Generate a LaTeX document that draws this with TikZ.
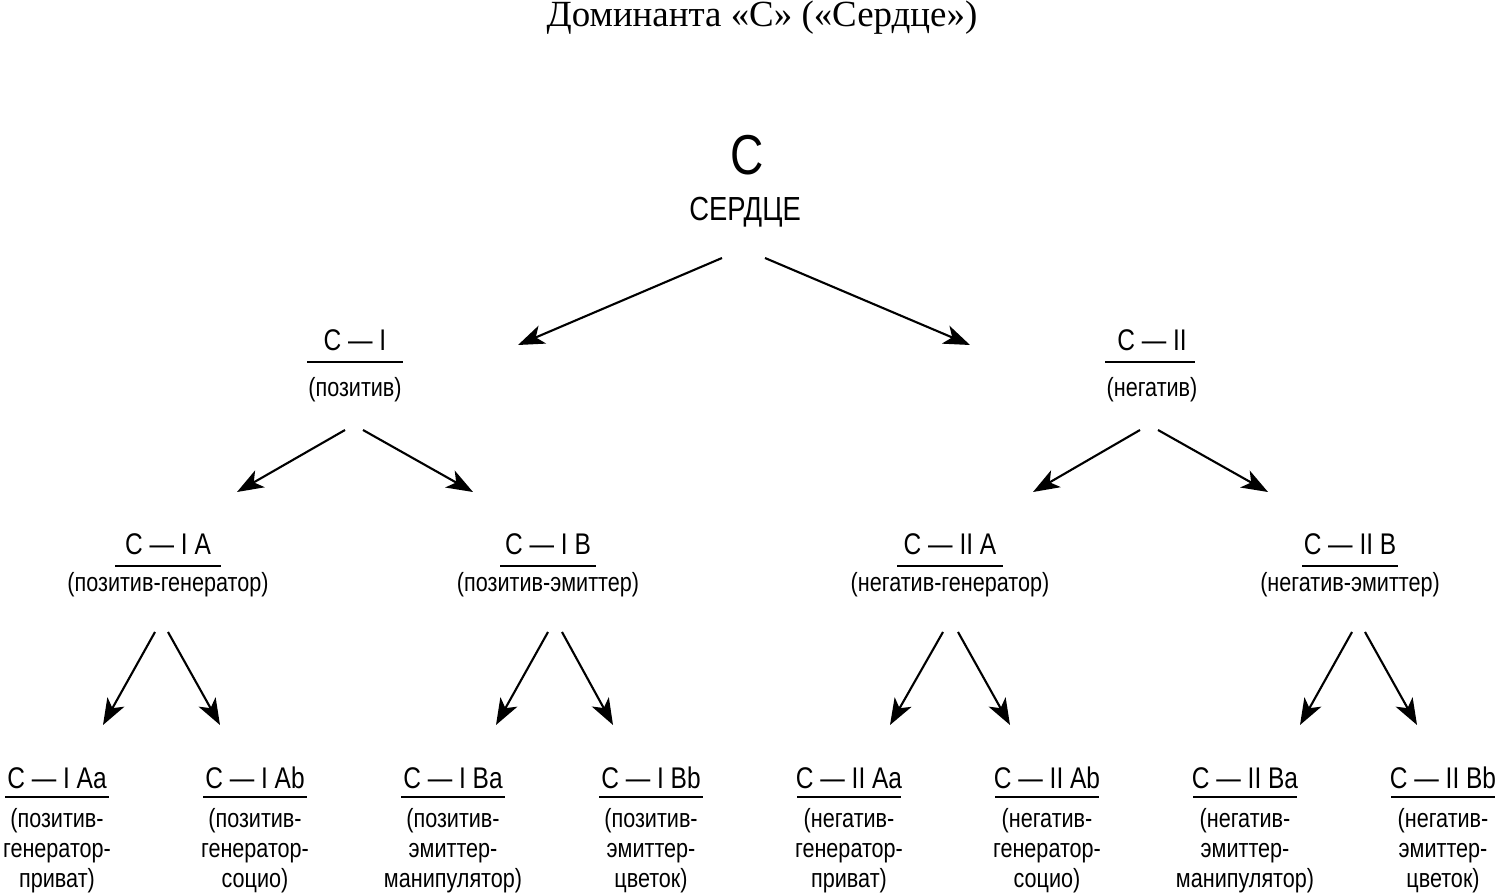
\documentclass[tikz,border=0pt]{standalone}
\usepackage{fontspec}
\setmainfont{Liberation Serif}
\newfontfamily\cond[FakeStretch=0.82]{Liberation Sans}
\usetikzlibrary{arrows.meta}
\begin{document}
\begin{tikzpicture}[x=0.02cm,y=-0.02cm,
  hd/.style={font=\cond\fontsize{17}{20}\selectfont,inner sep=0pt,anchor=center},
  sub/.style={font=\cond\fontsize{15}{17}\selectfont,inner sep=0pt,align=center,anchor=north},
  ul/.style={line width=1.1pt},
  ar/.style={line width=1.2pt,-{Stealth[length=15pt,width=11pt,inset=4pt]}}]
\useasboundingbox (0,0) rectangle (1500,895);
\node[font=\fontsize{21}{24}\selectfont,inner sep=0pt] (title) at (762,18) {Доминанта «С» («Сердце»)};
\node[font=\cond\fontsize{32}{36}\selectfont,inner sep=0pt] (root) at (747,155) {С};
\node[font=\cond\fontsize{19}{22}\selectfont,inner sep=0pt] (rootsub) at (745,212) {СЕРДЦЕ};
% level 1
\node[hd] (h1) at (355,340) {С — I};
\draw[ul] (307,362) -- (403,362);
\node[sub] (s1) at (355,377) {(позитив)};
\node[hd] (h2) at (1152,340) {С — II};
\draw[ul] (1105,362) -- (1195,362);
\node[sub] (s2) at (1152,377) {(негатив)};
% level 2
\foreach \n/\x/\t/\s/\w in {a/168/С — I A/(позитив-генератор)/53,b/548/С — I B/(позитив-эмиттер)/48,c/950/С — II A/(негатив-генератор)/53,d/1350/С — II B/(негатив-эмиттер)/48}{
  \node[hd] (h\n) at (\x,544) {\t};
  \draw[ul] (\x-\w,566) -- (\x+\w,566);
  \node[sub] (s\n) at (\x,572) {\s};
}
% level 3
\foreach \n/\x/\t/\a/\b/\c in {
 1/57/С — I Aa/позитив/генератор/приват,
 2/255/С — I Ab/позитив/генератор/социо,
 3/453/С — I Ba/позитив/эмиттер/манипулятор,
 4/651/С — I Bb/позитив/эмиттер/цветок,
 5/849/С — II Aa/негатив/генератор/приват,
 6/1047/С — II Ab/негатив/генератор/социо,
 7/1245/С — II Ba/негатив/эмиттер/манипулятор,
 8/1443/С — II Bb/негатив/эмиттер/цветок}{
  \node[hd] (l\n) at (\x,778) {\t};
  \draw[ul] (\x-52,797) -- (\x+52,797);
  \node[sub] (m\n) at (\x,808) {(\a-\\\b-\\\c)};
}
% arrows
\coordinate (r1) at (722,258); \coordinate (r2) at (765,258);
\coordinate (e1) at (518,345); \coordinate (e2) at (970,345);
\draw[ar] (r1) -- (e1); \draw[ar] (r2) -- (e2);
\foreach \a/\b/\c/\d in {345/430/237/492,363/430/473/492,1140/430/1033/492,1158/430/1268/492,
 155/632/103/725,168/632/220/725,548/632/496/725,562/632/613/725,
 943/632/890/725,958/632/1010/725,1352/632/1300/725,1365/632/1417/725}{
  \coordinate (p) at (\a,\b); \coordinate (q) at (\c,\d);
  \draw[ar] (p) -- (q);
}
\end{tikzpicture}
\end{document}
